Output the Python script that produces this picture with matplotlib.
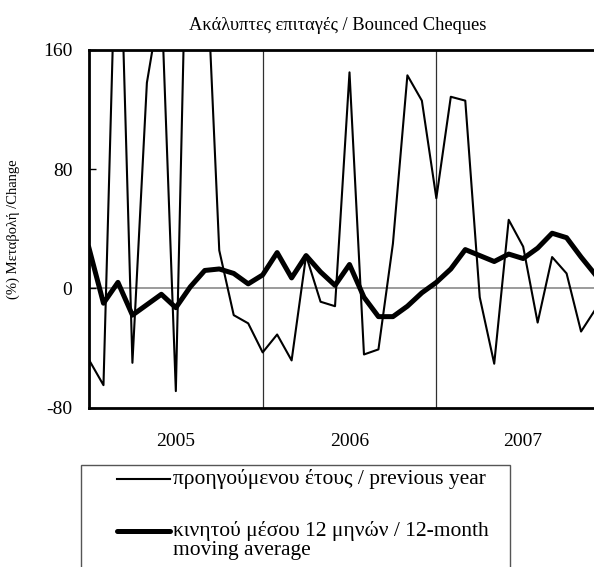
import numpy as np
import matplotlib
matplotlib.use("Agg")
import matplotlib.pyplot as plt
from matplotlib.lines import Line2D
from matplotlib.patches import Rectangle

plt.rcParams['font.family'] = ['Liberation Serif', 'DejaVu Serif']
plt.rcParams['axes.unicode_minus'] = False

# monthly values, Jan 2005 .. Dec 2007
years = ["2005", "2006", "2007"]
annual_change = [-48, -65, 290, -50, 138, 196, -69, 363, 244, 25.5, -18, -23.5,
                 -43, -31, -48.4, 22, -9, -12, 145, -44.4, -41, 30, 143, 126,
                 60.5, 128.6, 126, -6, -50.6, 46, 28, -23, 21, 10, -29, -14]
moving_avg = [27, -10, 4, -18, -11, -4, -13, 1, 12, 13, 10, 3,
              9, 24, 7, 22, 11, 2, 16, -6, -19, -19, -12, -3,
              4, 13, 26, 22, 18, 23, 20, 27, 37, 34, 21, 9]

title = "Ακάλυπτες επιταγές / Bounced Cheques"
ylabel = "(%) Μεταβολή /Change"
label_yoy = "προηγούμενου έτους / previous year"
label_ma = ["κινητού μέσου 12 μηνών / 12-month", "moving average"]

W, H = 594, 567


def fx(x):
    return x / W


def fy(y):
    return 1 - y / H


fig = plt.figure(figsize=(W / 100, H / 100), dpi=100)
ax = fig.add_axes([fx(89), fy(407.5), 521 / W, 357.5 / H])

x = np.arange(len(annual_change))
ax.plot(x, annual_change, color='black', lw=1.5)
ax.plot(x, moving_avg, color='black', lw=3.6)
ax.axhline(0, color='#808080', lw=1.1, zorder=0)

ax.set_xlim(0, 36)
ax.set_ylim(-80, 160)
ax.set_yticks([-80, 0, 80, 160])
ax.tick_params(axis='y', direction='in', length=5, width=1, pad=12, labelsize=14)

ax.set_xticks([12, 24])
ax.set_xticklabels([])
ax.set_xticks([6, 18, 30], minor=True)
ax.set_xticklabels(years, minor=True)
ax.tick_params(axis='x', which='both', length=0, pad=18, labelsize=14)
ax.grid(axis='x', which='major', color='#303030', lw=0.9)

for s in ['left', 'top', 'bottom']:
    ax.spines[s].set_linewidth(2)
ax.spines['right'].set_visible(False)

fig.text(fx(338), fy(26), title, ha='center', va='center', fontsize=13.3)
fig.text(fx(13.5), fy(229), ylabel, ha='center', va='center',
         rotation=90, fontsize=10.5)

# legend box (runs off the bottom of the image like the original)
fig.patches.append(Rectangle((fx(81), fy(620)), fx(510) - fx(81), fy(465) - fy(620),
                             transform=fig.transFigure, fill=False,
                             edgecolor='#555555', lw=1))
fig.lines.append(Line2D([fx(117), fx(170)], [fy(479)] * 2, transform=fig.transFigure,
                        color='black', lw=1.5))
fig.lines.append(Line2D([fx(117), fx(170)], [fy(531)] * 2, transform=fig.transFigure,
                        color='black', lw=3.6, solid_capstyle='round'))
fig.text(fx(173), fy(479), label_yoy, ha='left', va='center', fontsize=15.5)
fig.text(fx(173), fy(531), label_ma[0], ha='left', va='center', fontsize=15.5)
fig.text(fx(173), fy(550), label_ma[1], ha='left', va='center', fontsize=15.5)

fig.savefig("out.png", dpi=100)
